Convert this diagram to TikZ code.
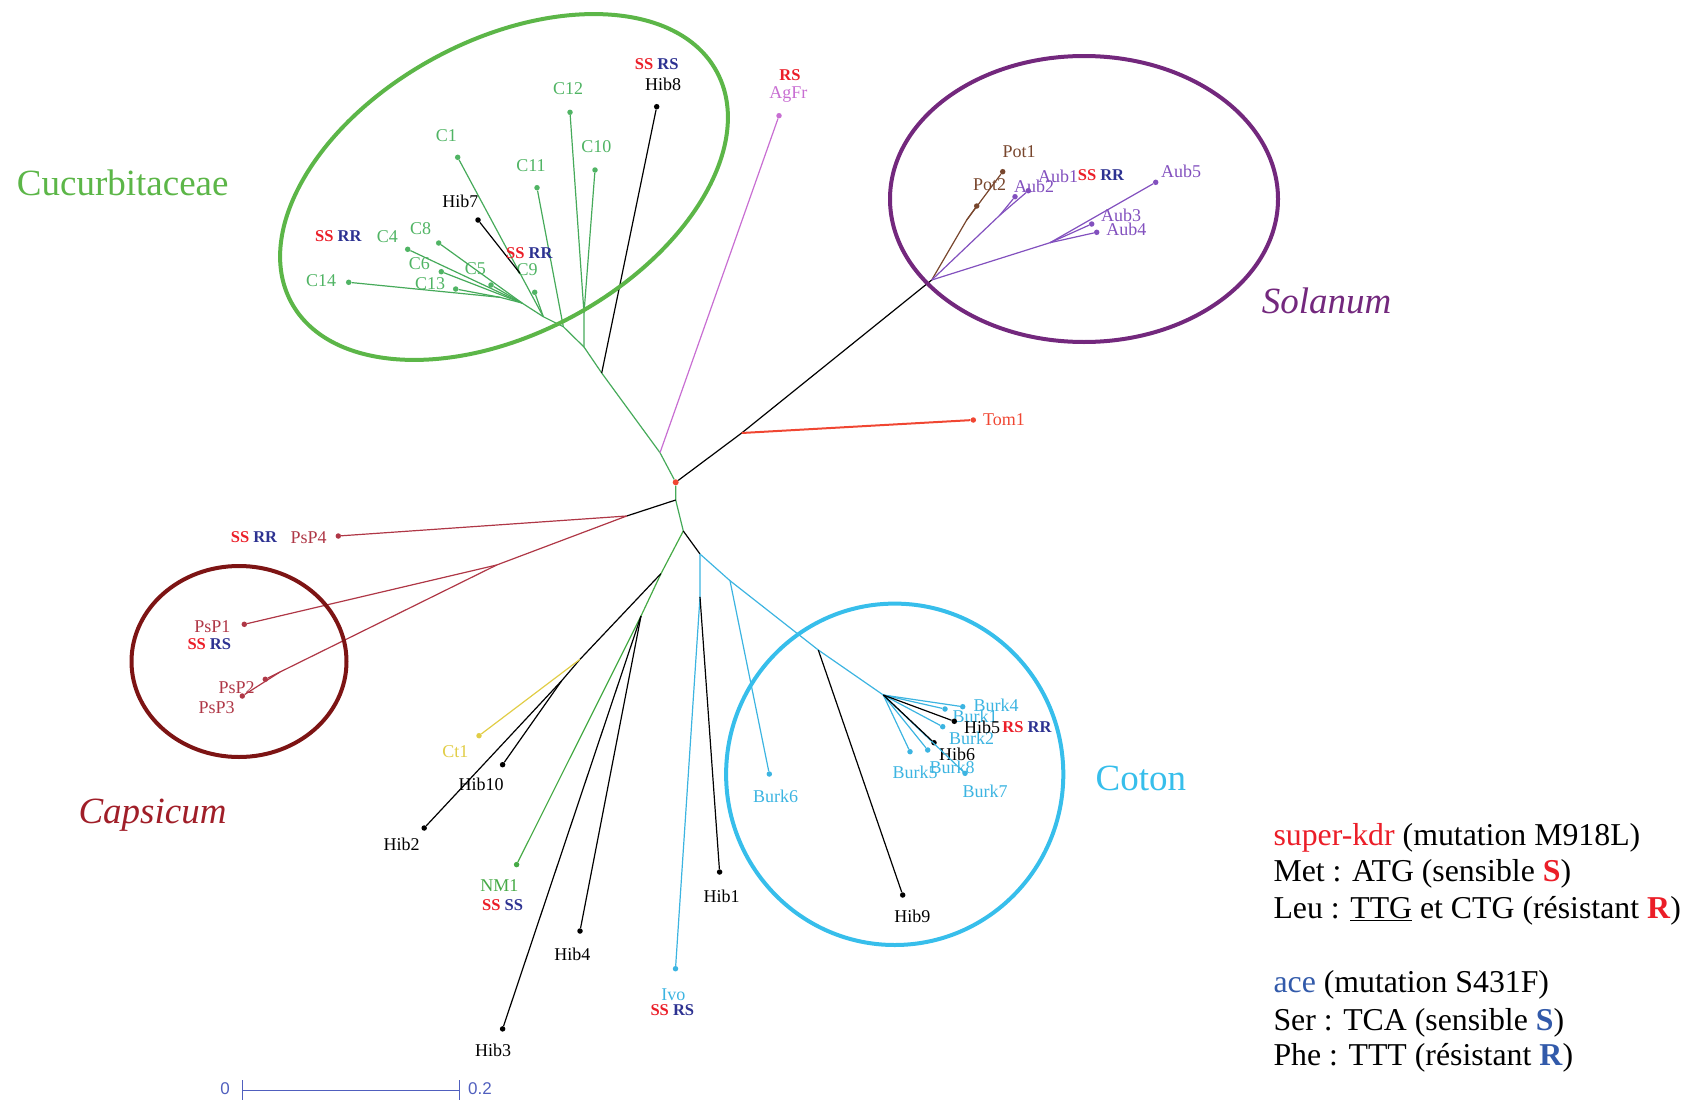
\documentclass[tikz,border=0pt]{standalone}
\usepackage{fontspec}
\setmainfont{Liberation Serif}
\setsansfont{Liberation Sans}

\definecolor{cucgreen}{RGB}{92,182,72}
\definecolor{trgreen}{RGB}{70,170,90}
\definecolor{clab}{RGB}{80,180,100}
\definecolor{agpink}{RGB}{200,110,210}
\definecolor{aubpurple}{RGB}{130,80,190}
\definecolor{potbrown}{RGB}{120,70,45}
\definecolor{tomred}{RGB}{240,70,50}
\definecolor{psred}{RGB}{175,55,70}
\definecolor{ctyellow}{RGB}{225,205,70}
\definecolor{nmgreen}{RGB}{70,170,70}
\definecolor{burkcyan}{RGB}{60,180,225}
\definecolor{solpurple}{RGB}{115,40,125}
\definecolor{capred}{RGB}{125,20,20}
\definecolor{captext}{RGB}{160,30,40}
\definecolor{cotcyan}{RGB}{55,190,235}
\definecolor{kdrred}{RGB}{235,30,40}
\definecolor{aceblue}{RGB}{45,50,145}
\definecolor{legblue}{RGB}{50,90,170}
\definecolor{scaleblue}{RGB}{80,95,190}

% tip of the tree: dot + its name
\newcommand{\leaf}[5]{\node[leafdot,#1] (#2) at (#3) {}; \node[lbl,text=#1] (#2l) at (#4) {#5};}
% genotype kdr / ace
\newcommand{\geno}[4]{\node[geno] (#1) at (#2) {\textcolor{kdrred}{#3} \textcolor{aceblue}{#4}};}

\begin{document}
\begin{tikzpicture}[x=1pt,y=-1pt,
  leafdot/.style={circle,fill,inner sep=0pt,minimum size=5.5pt},
  lbl/.style={inner sep=0pt,font=\fontsize{18}{18}\selectfont},
  geno/.style={inner sep=0pt,font=\fontsize{16.5}{16.5}\selectfont\bfseries},
  br/.style={line width=1.2pt},
  ring/.style={line width=4pt},
  group/.style={inner sep=0pt,anchor=base west,font=\fontsize{37}{37}\selectfont},
  legend/.style={inner sep=0pt,anchor=base west,font=\fontsize{31.8}{36}\selectfont},
  scalelbl/.style={inner sep=0pt,text=scaleblue,font=\sffamily\fontsize{17}{17}\selectfont}]
\useasboundingbox (0,0) rectangle (1684,1100);

% root and inner nodes
\node[leafdot,tomred,minimum size=6pt] (root) at (675.7,482.3) {};
\coordinate (m) at (660,452.7);
\coordinate (g1) at (601.7,373);
\coordinate (g2) at (584,347);
\coordinate (g3) at (584,313);
\coordinate (g4) at (563.3,326.7);
\coordinate (g5) at (543.3,316.7);
\coordinate (g6) at (520,273.3);
\coordinate (g8) at (522,303);
\coordinate (g7) at (500,297.3);
\coordinate (t0) at (741.7,433);
\coordinate (s0) at (931.7,280);
\coordinate (sp) at (966.7,220);
\coordinate (sa) at (1000,215);
\coordinate (sb) at (1050,242.7);
\coordinate (d0) at (675.7,500);
\coordinate (p0) at (626.7,516);
\coordinate (p1) at (496.7,565);
\coordinate (p3) at (280,672);
\coordinate (l0) at (683.3,531);
\coordinate (l1) at (661,573.6);
\coordinate (l4) at (641,616);
\coordinate (l2) at (580,659.3);
\coordinate (l3) at (561.7,680.7);
\coordinate (rr1) at (700,554);
\coordinate (rr2) at (700,596.8);
\coordinate (rr3) at (730,580.7);
\coordinate (h9) at (818.3,650);
\coordinate (bk) at (883.3,695);

% Cucurbitaceae
\leaf{clab}{c12}{570,112.3}{568,88.3}{C12}
\leaf{clab}{c10}{595,170}{596.3,146.7}{C10}
\leaf{clab}{c11}{537,187.7}{531,166}{C11}
\leaf{clab}{c1}{457.7,157.3}{446.3,136}{C1}
\leaf{black}{hib7}{478,220}{460.3,201.7}{Hib7}
\leaf{black}{hib8}{656.7,106.7}{663,84}{Hib8}
\leaf{clab}{c4}{407.7,249.3}{387.3,236.7}{C4}
\leaf{clab}{c8}{438.7,243}{420.7,229}{C8}
\leaf{clab}{c6}{441.3,271.7}{419.3,263.3}{C6}
\leaf{clab}{c5}{491,285}{475.3,268.3}{C5}
\leaf{clab}{c9}{534.7,292.3}{527,270}{C9}
\leaf{clab}{c14}{348.7,282.3}{321,280.7}{C14}
\leaf{clab}{c13}{455.7,289}{430,284}{C13}
\leaf{agpink}{agfr}{779,115.7}{788.3,95}{AgFr}

% Solanum
\leaf{potbrown}{pot1}{1002.7,171.7}{1019,151.7}{Pot1}
\leaf{potbrown}{pot2}{976.7,206}{989.7,185}{Pot2}
\leaf{aubpurple}{aub2}{1015,196.7}{1034,186}{Aub2}
\leaf{aubpurple}{aub1}{1028.3,190.7}{1058,176}{Aub1}
\leaf{aubpurple}{aub5}{1155.7,182.3}{1181,171.7}{Aub5}
\leaf{aubpurple}{aub3}{1091.7,224}{1121,215}{Aub3}
\leaf{aubpurple}{aub4}{1096.7,232.3}{1126.3,229.5}{Aub4}
\leaf{tomred}{tom1}{973.3,420}{1004,419.3}{Tom1}

% Capsicum
\leaf{psred}{psp4}{338.3,536}{308.7,537.3}{PsP4}
\leaf{psred}{psp1}{244.3,624.3}{212.3,626.7}{PsP1}
\leaf{psred}{psp2}{265.3,679.3}{236.7,687.3}{PsP2}
\leaf{psred}{psp3}{242.3,696}{216.7,707.7}{PsP3}

% lower branches
\leaf{ctyellow}{ct1}{479,735.7}{455.4,751.8}{Ct1}
\leaf{black}{hib10}{502.6,764.7}{481.2,784}{Hib10}
\leaf{black}{hib2}{424.2,828}{401.7,844.2}{Hib2}
\leaf{nmgreen}{nm1}{516.6,864.6}{499.4,886}{NM1}
\leaf{black}{hib4}{580,931}{572.4,954.8}{Hib4}
\leaf{black}{hib3}{502.6,1028.9}{493,1050.4}{Hib3}
\leaf{burkcyan}{ivo}{675.5,968.7}{673.4,994.5}{Ivo}
\leaf{black}{hib1}{719.6,872}{721.7,896.8}{Hib1}

% Coton
\leaf{burkcyan}{burk6}{769.3,774}{775.7,796.7}{Burk6}
\leaf{black}{hib9}{902.7,895}{912.3,916.7}{Hib9}
\leaf{burkcyan}{burk1}{945,709}{975,716}{Burk1}
\leaf{burkcyan}{burk4}{962.7,706.7}{996,705}{Burk4}
\leaf{burkcyan}{burk2}{942.7,726.7}{971.7,738.5}{Burk2}
\leaf{black}{hib5}{954.3,721.3}{982,727.7}{Hib5}
\leaf{burkcyan}{burk5}{910,751.7}{915,772.5}{Burk5}
\leaf{burkcyan}{burk8}{927.7,750}{952,767}{Burk8}
\leaf{black}{hib6}{934,742.7}{957,754.5}{Hib6}
\leaf{burkcyan}{burk7}{965,773.3}{985,791.7}{Burk7}

% branches
\draw[br,trgreen] (root) -- (m) -- (g1) -- (g2) -- (g3) -- (c12);
\draw[br,trgreen] (g3) -- (c10);
\draw[br,trgreen] (g2) -- (g4) -- (c11);
\draw[br,trgreen] (g4) -- (g5) -- (c9);
\draw[br,trgreen] (g5) -- (g6) -- (c1);
\draw[br,trgreen] (g5) -- (g8) -- (c4);
\draw[br,trgreen] (g8) -- (c6);
\draw[br,trgreen] (g8) -- (c8);
\draw[br,trgreen] (g8) -- (c5);
\draw[br,trgreen] (g8) -- (g7) -- (c14);
\draw[br,trgreen] (g7) -- (c13);
\draw[br] (g6) -- (hib7);
\draw[br] (g1) -- (hib8);
\draw[br,agpink] (m) -- (agfr);

\draw[br] (root) -- (t0) -- (s0);
\draw[tomred,line width=2pt] (t0) -- (tom1);
\draw[br,potbrown] (s0) -- (sp) -- (pot1);
\draw[br,potbrown] (sp) -- (pot2);
\draw[br,aubpurple] (s0) -- (sa) -- (aub1);
\draw[br,aubpurple] (sa) -- (aub2);
\draw[br,aubpurple] (s0) -- (sb) -- (aub5);
\draw[br,aubpurple] (sb) -- (aub3);
\draw[br,aubpurple] (sb) -- (aub4);

\draw[br,trgreen] (root) -- (d0) -- (l0);
\draw[br] (d0) -- (p0);
\draw[br,psred] (p0) -- (psp4);
\draw[br,psred] (p0) -- (p1) -- (psp1);
\draw[br,psred] (p1) -- (p3) -- (psp2);
\draw[br,psred] (p3) -- (psp3);

\draw[br,nmgreen] (l0) -- (l1) -- (l4) -- (nm1);
\draw[br] (l4) -- (hib3);
\draw[br] (l4) -- (hib4);
\draw[br] (l1) -- (l2) -- (l3) -- (hib2);
\draw[br] (l3) -- (hib10);
\draw[br,ctyellow] (l2) -- (ct1);

\draw[br] (l0) -- (rr1);
\draw[br,burkcyan] (rr1) -- (rr2) -- (ivo);
\draw[br] (rr2) -- (hib1);
\draw[br,burkcyan] (rr1) -- (rr3) -- (burk6);
\draw[br,burkcyan] (rr3) -- (h9) -- (bk);
\draw[br] (h9) -- (hib9);
\foreach \b in {burk1,burk4,burk2,burk5,burk8,burk7}
  \draw[br,burkcyan] (bk) -- (\b);
\draw[br] (bk) -- (hib5);
\draw[br] (bk) -- (hib6);

% genotypes
\geno{ghib8}{656.7,64}{SS}{RS}
\node[geno,text=kdrred] (gagfr) at (790,75) {RS};
\geno{gc4}{338.3,235.7}{SS}{RR}
\geno{gc9}{529.3,253.3}{SS}{RR}
\geno{gaub}{1101,175}{SS}{RR}
\geno{gpsp4}{254,536.7}{SS}{RR}
\geno{gpsp1}{209.3,644}{SS}{RS}
\geno{gnm1}{502.6,905.4}{SS}{SS}
\geno{givo}{672.3,1010.6}{SS}{RS}
\geno{ghib5}{1027,726.7}{RS}{RR}

% groups
\draw[ring,cucgreen,rotate around={28.5:(504,187)}] (504,187) ellipse [x radius=242,y radius=146.5];
\draw[ring,solpurple] (1084,199) ellipse [x radius=194,y radius=143];
\draw[ring,capred] (239,661.5) ellipse [x radius=107.5,y radius=95.5];
\draw[ring,cotcyan] (894.7,774.3) ellipse [x radius=168.6,y radius=170.7];

\node[group,text=cucgreen] (cucname) at (16.7,195) {Cucurbitaceae};
\node[group,text=solpurple] (solname) at (1261.7,313) {\itshape Solanum};
\node[group,text=captext] (capname) at (78.3,823.3) {\itshape Capsicum};
\node[group,text=cotcyan] (cotname) at (1095.5,790) {Coton};

% legend
\node[legend] (leg1) at (1273.3,845) {\textcolor{kdrred}{super-kdr} (mutation M918L)};
\node[legend] (leg2) at (1273.3,881.7) {Met : ATG (sensible \textcolor{kdrred}{\textbf{S}})};
\node[legend] (leg3) at (1273.3,918.3) {Leu : \underline{TTG} et CTG (résistant \textcolor{kdrred}{\textbf{R}})};
\node[legend] (leg4) at (1273.3,992.7) {\textcolor{legblue}{ace} (mutation S431F)};
\node[legend] (leg5) at (1273.3,1030) {Ser : TCA (sensible \textcolor{legblue}{\textbf{S}})};
\node[legend] (leg6) at (1273.3,1065) {Phe : TTT (résistant \textcolor{legblue}{\textbf{R}})};

% scale
\coordinate (sc0) at (242.3,1090);
\coordinate (sc2) at (459.3,1090);
\draw[scaleblue,line width=1pt] (sc0) -- (sc2);
\draw[scaleblue,line width=1pt] ([yshift=-10pt]sc0) -- ([yshift=10pt]sc0);
\draw[scaleblue,line width=1pt] ([yshift=-10pt]sc2) -- ([yshift=10pt]sc2);
\node[scalelbl] (scl0) at (225,1088.3) {0};
\node[scalelbl] (scl2) at (480,1088.3) {0.2};
\end{tikzpicture}
\end{document}
